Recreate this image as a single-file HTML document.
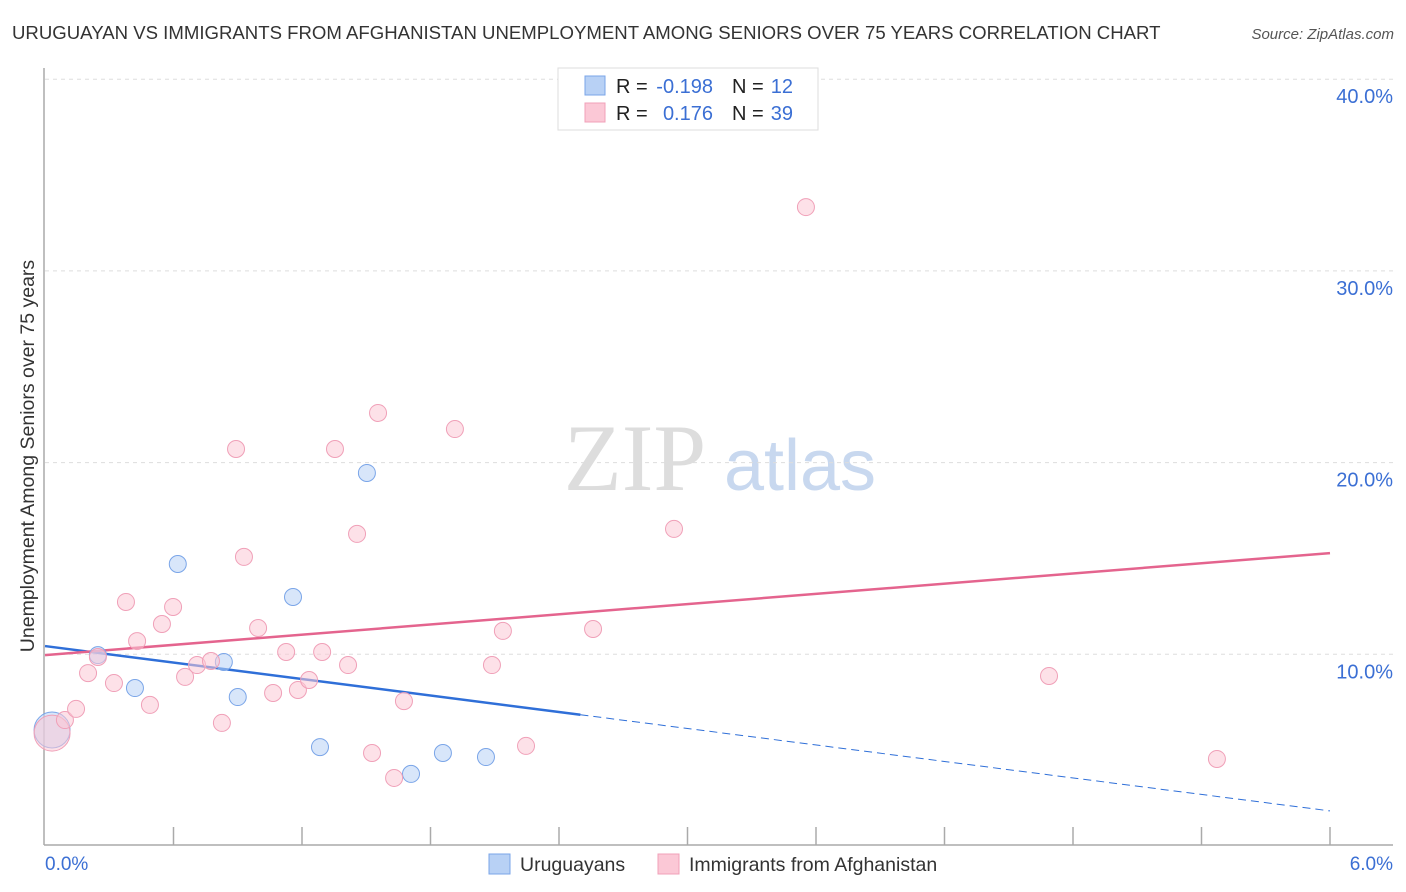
<!DOCTYPE html>
<html><head><meta charset="utf-8"><style>
body{margin:0;background:#fff;font-family:"Liberation Sans",sans-serif}
svg{display:block}
</style></head><body>
<svg id="chart" width="1406" height="892" xmlns="http://www.w3.org/2000/svg">
<text x="12" y="39" font-size="18.6" fill="#333">URUGUAYAN VS IMMIGRANTS FROM AFGHANISTAN UNEMPLOYMENT AMONG SENIORS OVER 75 YEARS CORRELATION CHART</text>
<text x="1394" y="39" font-size="15" fill="#555" font-style="italic" text-anchor="end">Source: ZipAtlas.com</text>
<g>
<text x="635" y="490" font-size="95" fill="#ddd" font-family="Liberation Serif,serif" text-anchor="middle">ZIP</text>
<text x="800" y="490" font-size="72" fill="#c8d8ef" text-anchor="middle">atlas</text>
</g>
<g id="grid"></g>
<g id="axes"></g>
<g id="lines"></g>
<g id="points"></g>
<text transform="translate(34,456) rotate(-90)" font-size="19.5" fill="#333" text-anchor="middle">Unemployment Among Seniors over 75 years</text>
<text x="45" y="870" font-size="19" fill="#3b6fd4">0.0%</text>
<text x="1393" y="870" font-size="19" fill="#3b6fd4" text-anchor="end">6.0%</text>
<g>
<rect x="558" y="68" width="260" height="62" fill="#fff" stroke="#ddd"/>
<rect x="585" y="76" width="20" height="19" fill="#b8d1f5" stroke="#7aa5e8"/>
<rect x="585" y="103" width="20" height="19" fill="#fbc8d6" stroke="#f0a0b8"/>
<g font-size="20">
<text x="616" y="93" fill="#222">R =</text>
<text x="713" y="93" fill="#3b6fd4" text-anchor="end">-0.198</text>
<text x="732" y="93" fill="#222">N =</text>
<text x="793" y="93" fill="#3b6fd4" text-anchor="end">12</text>
<text x="616" y="120" fill="#222">R =</text>
<text x="713" y="120" fill="#3b6fd4" text-anchor="end">0.176</text>
<text x="732" y="120" fill="#222">N =</text>
<text x="793" y="120" fill="#3b6fd4" text-anchor="end">39</text>
</g>
</g>
<g>
<rect x="489" y="854" width="21" height="20" fill="#b8d1f5" stroke="#7aa5e8"/>
<text x="520" y="871" font-size="19.5" fill="#333">Uruguayans</text>
<rect x="658" y="854" width="21" height="20" fill="#fbc8d6" stroke="#f0a0b8"/>
<text x="689" y="871" font-size="19.5" fill="#333">Immigrants from Afghanistan</text>
</g>
</svg>
<script>
const yTicks=[10,20,30,40];
const yTickLabels=["10.0%","20.0%","30.0%","40.0%"];
const xTicks=[0.6,1.2,1.8,2.4,3.0,3.6,4.2,4.8,5.4,6.0];
const blueX=[0.033,0.247,0.42,0.62,0.835,0.90,1.158,1.284,1.503,1.709,1.858,2.059];
const blueY=[6.05,9.96,8.24,14.71,9.60,7.77,12.99,5.16,19.46,3.76,4.85,4.64];
const pinkX=[0.033,0.093,0.145,0.201,0.247,0.322,0.378,0.43,0.49,0.546,0.598,0.654,0.71,0.775,0.826,0.892,0.929,0.995,1.065,1.126,1.181,1.233,1.294,1.354,1.415,1.457,1.527,1.555,1.63,1.676,1.914,2.087,2.138,2.246,2.559,2.937,3.553,4.688,5.472];
const pinkY=[5.89,6.57,7.15,9.02,9.86,8.50,12.73,10.69,7.36,11.58,12.47,8.82,9.44,9.65,6.42,20.71,15.08,11.37,7.98,10.12,8.14,8.66,10.12,20.71,9.44,16.28,4.85,22.59,3.55,7.56,21.75,9.44,11.22,5.22,11.32,16.54,33.33,8.87,4.54];
const blueTrend=[10.43,1.83];
const pinkTrend=[9.96,15.28];
const blueSolidEnd=2.5;
const NS="http://www.w3.org/2000/svg";
const X=v=>45+v/6*1285;
const Y=v=>846-v*19.17;
function mk(tag,attrs,parent){const e=document.createElementNS(NS,tag);for(const k in attrs)e.setAttribute(k,attrs[k]);document.getElementById(parent).appendChild(e);return e;}
yTicks.forEach((t,i)=>{
 const l=mk('line',{x1:45,x2:1393,y1:Y(t),y2:Y(t),stroke:'#ddd','stroke-dasharray':'4,4'},'grid');
 
 
 const tx=mk('text',{x:1393,y:Y(t)+24,'font-size':20,fill:'#3b6fd4','text-anchor':'end'},'grid');
 tx.textContent=yTickLabels[i];
 
 
});
const ax=mk('line',{x1:44,x2:44,y1:68,y2:845,stroke:'#aaa','stroke-width':1.5},'axes');


const bx=mk('line',{x1:44,x2:1393,y1:845,y2:845,stroke:'#aaa','stroke-width':1.5},'axes');


xTicks.forEach(t=>{
 const l=mk('line',{x1:X(t),x2:X(t),y1:827,y2:845,stroke:'#aaa','stroke-width':1.5},'axes');
 
 
});
const by=x=>blueTrend[0]+(blueTrend[1]-blueTrend[0])*x/6;
const py=x=>pinkTrend[0]+(pinkTrend[1]-pinkTrend[0])*x/6;
function pts(xs,ys,fill,stroke,name){
 xs.forEach((x,i)=>{
  const r=i===0?18:8.5;
  const c=mk('circle',{cx:X(x),cy:Y(ys[i]),r:r,fill:fill,'fill-opacity':0.55,stroke:stroke,'stroke-width':1},'points');
  
  
 });
}
pts(blueX,blueY,'#b8d1f5','#7aa5e8','uruguayan-point');
pts(pinkX,pinkY,'#fbc8d6','#f0a0b8','afghanistan-point');
const l1=mk('line',{x1:X(0),y1:Y(by(0)),x2:X(blueSolidEnd),y2:Y(by(blueSolidEnd)),stroke:'#2f6fd8','stroke-width':2.5},'lines');


const l2=mk('line',{x1:X(blueSolidEnd),y1:Y(by(blueSolidEnd)),x2:X(6),y2:Y(by(6)),stroke:'#2f6fd8','stroke-width':1,'stroke-dasharray':'8,5'},'lines');


const l3=mk('line',{x1:X(0),y1:Y(py(0)),x2:X(6),y2:Y(py(6)),stroke:'#e4648e','stroke-width':2.5},'lines');


</script>
</body></html>
